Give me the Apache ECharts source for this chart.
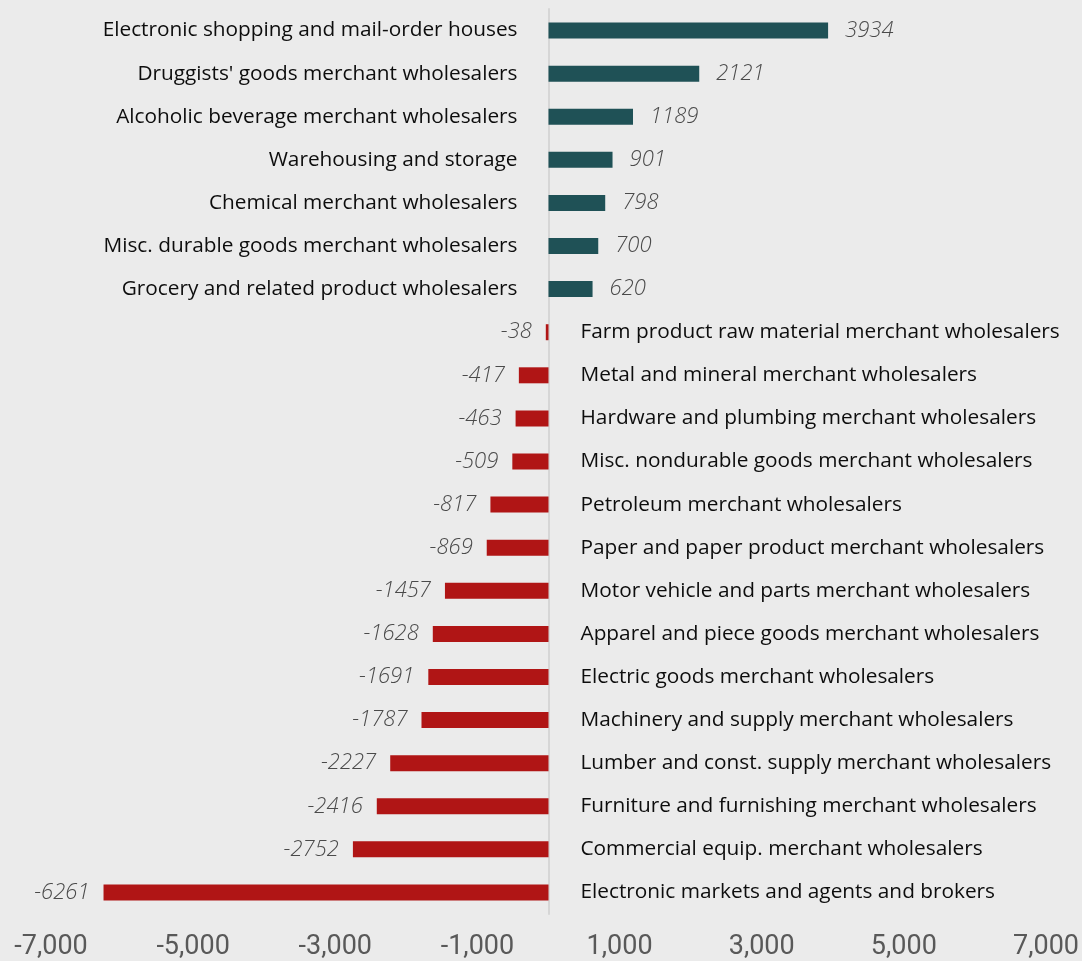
<!DOCTYPE html>
<html><head><meta charset="utf-8">
<script src="https://cdn.jsdelivr.net/npm/echarts@6/dist/echarts.min.js"></script>
<style>html,body{margin:0;padding:0;background:#ebebeb;}#c{width:1082px;height:961px;}</style>
</head><body><div id="c"></div>
<script>
const categories = [
  "Electronic shopping and mail-order houses",
  "Druggists' goods merchant wholesalers",
  "Alcoholic beverage merchant wholesalers",
  "Warehousing and storage",
  "Chemical merchant wholesalers",
  "Misc. durable goods merchant wholesalers",
  "Grocery and related product wholesalers",
  "Farm product raw material merchant wholesalers",
  "Metal and mineral merchant wholesalers",
  "Hardware and plumbing merchant wholesalers",
  "Misc. nondurable goods merchant wholesalers",
  "Petroleum merchant wholesalers",
  "Paper and paper product merchant wholesalers",
  "Motor vehicle and parts merchant wholesalers",
  "Apparel and piece goods merchant wholesalers",
  "Electric goods merchant wholesalers",
  "Machinery and supply merchant wholesalers",
  "Lumber and const. supply merchant wholesalers",
  "Furniture and furnishing merchant wholesalers",
  "Commercial equip. merchant wholesalers",
  "Electronic markets and agents and brokers"
];
const values = [3934, 2121, 1189, 901, 798, 700, 620, -38, -417, -463, -509, -817, -869, -1457, -1628, -1691, -1787, -2227, -2416, -2752, -6261];
const xTicks = [-7000, 7000, 2000]; // min, max, interval

const posColor = '#1f5156';
const negColor = '#b01515';

const valueData = values.map(v => ({
  value: v,
  itemStyle: { color: v >= 0 ? posColor : negColor },
  label: { position: v >= 0 ? 'right' : 'left', distance: v >= 0 ? 17 : 14 }
}));
const nameData = values.map((v, i) => ({
  value: v,
  name: categories[i],
  label: { position: v >= 0 ? 'left' : 'right', distance: v >= 0 ? 31 : 32 }
}));

const chart = echarts.init(document.getElementById('c'), null, { renderer: 'canvas' });
chart.setOption({
  backgroundColor: '#ebebeb',
  animation: false,
  grid: { left: 51, right: 33, top: 9, bottom: 46, containLabel: false },
  xAxis: {
    type: 'value', min: xTicks[0], max: xTicks[1], interval: xTicks[2],
    axisLine: { show: false }, axisTick: { show: false }, splitLine: { show: false },
    axisLabel: {
      margin: 20, color: '#595959', fontFamily: 'Roboto', fontSize: 27,
      formatter: v => (v < 0 ? '-' : '') + Math.abs(v).toLocaleString('en-US')
    }
  },
  yAxis: {
    type: 'category', data: categories, inverse: true,
    axisLabel: { show: false }, axisTick: { show: false },
    axisLine: { show: true, onZero: true, lineStyle: { color: '#d6d6d6', width: 2 } },
    splitLine: { show: false }
  },
  series: [
    {
      type: 'bar', data: valueData, barWidth: 16, z: 2,
      label: {
        show: true, formatter: '{c}', color: '#4a4a4a',
        fontFamily: 'Open Sans', fontStyle: 'italic', fontWeight: 300, fontSize: 22
      }
    },
    {
      type: 'bar', data: nameData, barWidth: 16, barGap: '-100%', z: 1,
      itemStyle: { color: 'rgba(0,0,0,0)' },
      label: {
        show: true, formatter: p => p.name, color: '#0d0d0d',
        fontFamily: 'Open Sans', fontSize: 20.8
      }
    }
  ]
});
</script></body></html>
